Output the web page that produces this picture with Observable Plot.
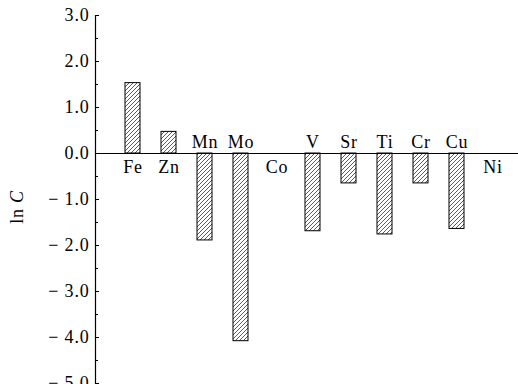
<!DOCTYPE html>
<html>
<head>
<meta charset="utf-8">
<script src="https://cdn.jsdelivr.net/npm/d3@7"></script>
<script src="https://cdn.jsdelivr.net/npm/@observablehq/plot@0.6"></script>
<style>
  html, body { margin: 0; padding: 0; background: #fff; }
  #chart svg { display: block; }
  #chart svg text { font-family: "Liberation Serif", "Times New Roman", serif !important; letter-spacing: 0.8px; }
</style>
</head>
<body>
<div id="chart"></div>
<script>
const elements = ["Fe", "Zn", "Mn", "Mo", "Co", "V", "Sr", "Ti", "Cr", "Cu", "Ni"];
const lnC = [1.53, 0.47, -1.89, -4.08, 0, -1.69, -0.65, -1.76, -0.65, -1.64, 0];
const majorTicks = [3, 2, 1, 0, -1, -2, -3, -4, -5];
const minorTicks = [2.5, 1.5, 0.5, -0.5, -1.5, -2.5, -3.5, -4.5];
const yLabel = ["ln ", "C"];

const data = elements.map((e, i) => ({el: e, v: lnC[i]}));
const fmt = d => d < 0 ? "\u2212 " + Math.abs(d).toFixed(1) : d.toFixed(1);
const serif = "Liberation Serif";

const plot = Plot.plot({
  width: 518,
  height: 384,
  marginLeft: 95,
  marginRight: 0,
  marginTop: 15,
  marginBottom: 1,
  style: {background: "white"},
  x: {domain: elements, insetLeft: 19, insetRight: 7, paddingInner: 0.585, paddingOuter: 0.2925, axis: null},
  y: {domain: [-5, 3], axis: null},
  marks: [
    Plot.barY(data.filter(d => d.v !== 0), {x: "el", y: "v", fill: "url(#hatch)", stroke: "black", strokeWidth: 1}),
    Plot.ruleY([0], {stroke: "black", strokeWidth: 1.2}),
    Plot.axisY(majorTicks, {anchor: "left", tickSize: -4, tickPadding: 10, tickFormat: fmt, fontSize: 18, fontFamily: serif, label: null, stroke: "black", fill: "black"}),
    Plot.axisY(minorTicks, {anchor: "left", tickSize: -3, text: null, label: null, stroke: "black"}),
    Plot.frame({anchor: "left", stroke: "black", strokeWidth: 1.2}),
    Plot.text(data, {x: "el", y: 0, text: "el", fontSize: 18, fontFamily: serif, fill: "black",
      dy: 14, lineAnchor: "middle", filter: d => d.v >= 0}),
    Plot.text(data, {x: "el", y: 0, text: "el", fontSize: 18, fontFamily: serif, fill: "black",
      dy: -11, lineAnchor: "middle", filter: d => d.v < 0})
  ]
});

// hatch pattern
const svg = d3.select(plot);
const defs = svg.insert("defs", ":first-child");
const pat = defs.append("pattern").attr("id", "hatch").attr("patternUnits", "userSpaceOnUse")
  .attr("width", 4).attr("height", 4);
pat.append("rect").attr("width", 4).attr("height", 4).attr("fill", "white");
pat.append("path").attr("d", "M-1,1 L1,-1 M0,4 L4,0 M3,5 L5,3").attr("stroke", "#222").attr("stroke-width", 0.75);

document.getElementById("chart").appendChild(plot);

// y-axis label with italic C
const lab = svg.append("text")
  .attr("transform", "translate(19,207) rotate(-90)")
  .attr("text-anchor", "middle")
  .attr("dominant-baseline", "middle")
  .attr("font-size", 18)
  .attr("fill", "black");
lab.append("tspan").text(yLabel[0]);
lab.append("tspan").attr("font-style", "italic").text(yLabel[1]);
</script>
</body>
</html>
